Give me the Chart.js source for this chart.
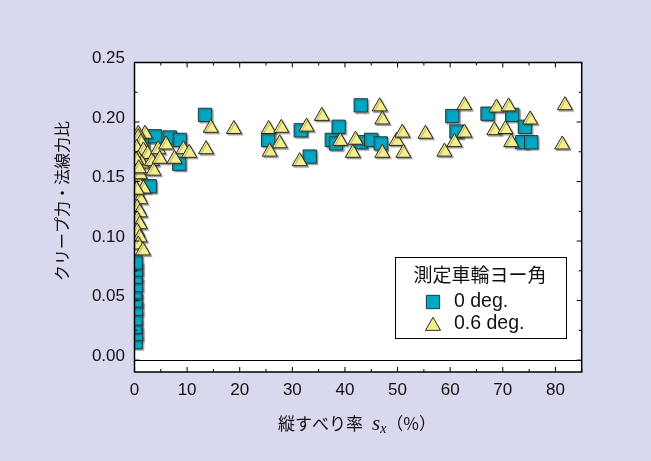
<!DOCTYPE html>
<html><head><meta charset="utf-8">
<script src="https://cdn.jsdelivr.net/npm/chart.js@4.4.0/dist/chart.umd.min.js"></script>
<style>
html,body{margin:0;padding:0;background:#d8d8ee;}
#wrap{width:651px;height:461px;position:relative;}
</style></head><body>
<div id="wrap"><canvas id="c" width="651" height="461"></canvas></div>
<script>
// ---- data ----
const xTicks = [0,10,20,30,40,50,60,70,80];
const yTicks = [0,0.05,0.10,0.15,0.20,0.25];
const seriesNames = ['0 deg.','0.6 deg.'];
const legendTitle = '測定車輪ヨー角';
const yTitle = 'クリープ力・法線力比';
const xTitleMain = '縦すべり率';
const xTitleVar = 's';
const xTitleSub = 'x';
const xTitleUnit = '（%）';

const slip0 = [0.2,0.3,0.1,0.2,0.3,0.2,0.1,0.3,0.2,0.3,0.2,1.0,1.5,2.9,3.9,6.7,8.6,8.5,13.4,25.4,31.6,33.3,37.5,38.3,38.8,43.0,43.0,45.0,46.8,60.4,61.2,67.1,71.8,74.2,73.7,75.4];
const ratio0 = [0.015,0.022,0.028,0.035,0.043,0.050,0.057,0.063,0.070,0.076,0.082,0.176,0.182,0.146,0.188,0.187,0.185,0.165,0.206,0.185,0.193,0.171,0.185,0.182,0.196,0.214,0.183,0.185,0.182,0.205,0.192,0.207,0.206,0.196,0.183,0.183];

const slip06 = [2.0,0.7,0.7,1.2,0.4,1.7,2.5,0.7,1.4,3.3,0.4,3.6,0.3,0.7,1.7,0.7,1.1,0.5,1.0,0.5,1.0,0.5,1.0,0.7,1.6,0.3,1.0,0.4,0.8,
  4.5,4.8,6.0,7.6,9.3,10.4,13.6,14.5,18.9,
  25.5,27.9,27.6,25.7,31.4,32.7,35.6,39.1,41.5,42.0,46.6,47.1,47.1,49.8,50.9,51.1,55.3,58.9,60.8,62.7,62.7,68.4,68.8,70.5,71.1,71.6,75.2,81.3,81.8];
const ratio06 = [0.190,0.190,0.187,0.183,0.178,0.176,0.173,0.169,0.165,0.167,0.158,0.159,0.153,0.149,0.144,0.138,0.135,0.128,0.124,0.118,0.114,0.108,0.103,0.097,0.092,0.168,0.156,0.143,0.161,
  0.177,0.169,0.181,0.169,0.177,0.174,0.177,0.195,0.194,
  0.194,0.195,0.182,0.175,0.167,0.196,0.205,0.184,0.174,0.185,0.213,0.202,0.174,0.184,0.191,0.174,0.190,0.175,0.183,0.191,0.214,0.193,0.212,0.194,0.213,0.183,0.202,0.181,0.214];

// ---- styles ----
const BG = '#d8d8ee';
const SQ_FILL = '#00a8c2', SQ_EDGE = '#163840';
const TR_FILL = '#f4ee8c', TR_EDGE = '#2a2a1a';
const SQ_R = 9.4, TR_R = 8.7;

const decor = {
  id: 'decor',
  beforeDraw(chart) {
    const {ctx, chartArea: a} = chart;
    ctx.save();
    ctx.fillStyle = BG; ctx.fillRect(0, 0, chart.width, chart.height);
    ctx.fillStyle = '#fff'; ctx.fillRect(a.left, a.top, a.right - a.left, a.bottom - a.top);
    ctx.restore();
  },
  beforeDatasetsDraw(chart) {
    const ctx = chart.ctx;
    ctx.save();
    ctx.shadowColor = 'rgba(70,70,70,0.45)';
    ctx.shadowOffsetX = 1.5; ctx.shadowOffsetY = 1.5; ctx.shadowBlur = 1;
  },
  afterDatasetsDraw(chart) { chart.ctx.restore(); },
  afterDraw(chart) {
    const {ctx, chartArea: a, scales: {x, y}} = chart;
    ctx.save();
    // frame
    ctx.strokeStyle = '#000'; ctx.lineWidth = 1.5;
    ctx.strokeRect(a.left, a.top, a.right - a.left, a.bottom - a.top);
    // inward ticks
    ctx.lineWidth = 1;
    for (let v = 0; v <= 85; v += 5) {
      const px = x.getPixelForValue(v);
      const len = (v % 10 === 0) ? 5 : 3;
      ctx.beginPath();
      ctx.moveTo(px, a.bottom); ctx.lineTo(px, a.bottom - len);
      ctx.moveTo(px, a.top); ctx.lineTo(px, a.top + len);
      ctx.stroke();
    }
    for (let k = 0; k <= 10; k++) {
      const v = k * 0.025;
      const py = y.getPixelForValue(v);
      const len = (k % 2 === 0) ? 5 : 3;
      ctx.beginPath();
      ctx.moveTo(a.left, py); ctx.lineTo(a.left + len, py);
      ctx.moveTo(a.right, py); ctx.lineTo(a.right - len, py);
      ctx.stroke();
    }
    // y title
    ctx.fillStyle = '#111';
    ctx.save();
    ctx.translate(62, 201);
    ctx.rotate(-Math.PI / 2);
    ctx.font = '16px "Noto Sans CJK JP"';
    ctx.textAlign = 'center'; ctx.textBaseline = 'middle';
    ctx.fillText(yTitle, 0, 0);
    ctx.restore();
    // x title
    const fMain = '17px "Noto Sans CJK JP"';
    const fVar = 'italic 21px "Liberation Serif"';
    const fSub = 'italic 14px "Liberation Serif"';
    ctx.textBaseline = 'alphabetic'; ctx.textAlign = 'left';
    ctx.font = fMain; const w1 = ctx.measureText(xTitleMain).width;
    const wUnit = ctx.measureText(xTitleUnit).width;
    ctx.font = fVar; const w2 = ctx.measureText(xTitleVar).width;
    ctx.font = fSub; const w3 = ctx.measureText(xTitleSub).width;
    const gap = 9;
    const total = w1 + gap + w2 + w3 + wUnit;
    let cx = 357 - total / 2;
    const by = 430;
    ctx.font = fMain; ctx.fillText(xTitleMain, cx, by); cx += w1 + gap;
    ctx.font = fVar; ctx.fillText(xTitleVar, cx, by); cx += w2;
    ctx.font = fSub; ctx.fillText(xTitleSub, cx, by + 3); cx += w3;
    ctx.font = fMain; ctx.fillText(xTitleUnit, cx, by);
    // legend
    const L = {x: 395, y: 257, w: 171, h: 81};
    ctx.fillStyle = '#fff'; ctx.fillRect(L.x, L.y, L.w, L.h);
    ctx.strokeStyle = '#000'; ctx.lineWidth = 1;
    ctx.strokeRect(L.x + 0.5, L.y + 0.5, L.w, L.h);
    ctx.fillStyle = '#111';
    ctx.font = '19px "Noto Sans CJK JP"';
    ctx.textAlign = 'center'; ctx.textBaseline = 'middle';
    ctx.fillText(legendTitle, 480, 275);
    const ds = chart.data.datasets;
    const rows = [302, 324];
    ctx.textAlign = 'left';
    ctx.font = '19.5px "Liberation Sans", Arial, sans-serif';
    ds.forEach((d, i) => {
      ctx.fillStyle = d.backgroundColor; ctx.strokeStyle = d.borderColor; ctx.lineWidth = 1;
      Chart.helpers.drawPoint(ctx, {pointStyle: d.pointStyle, radius: d.pointRadius, rotation: 0, borderWidth: 1}, 433, rows[i] + (d.pointStyle === 'triangle' ? 2 : 0));
      ctx.fillStyle = '#111';
      ctx.fillText(d.label, 454, rows[i]);
    });
    ctx.restore();
  }
};

const toPts = (xs, ys) => xs.map((v, i) => ({x: v, y: ys[i]}));

new Chart(document.getElementById('c'), {
  type: 'scatter',
  data: {
    datasets: [
      {label: seriesNames[0], data: toPts(slip0, ratio0), pointStyle: 'rect', pointRadius: SQ_R,
       backgroundColor: SQ_FILL, borderColor: SQ_EDGE, borderWidth: 1, order: 1, clip: 0},
      {label: seriesNames[1], data: toPts(slip06, ratio06), pointStyle: 'triangle', pointRadius: TR_R,
       backgroundColor: TR_FILL, borderColor: TR_EDGE, borderWidth: 1, order: 0, clip: 0}
    ]
  },
  options: {
    responsive: false, animation: false, events: [],
    layout: {padding: {left: 0, top: 62.5, right: 69.3, bottom: 0}},
    plugins: {legend: {display: false}, tooltip: {enabled: false}},
    scales: {
      x: {
        type: 'linear', min: 0, max: 85,
        afterFit(s) { s.height = 89; },
        afterBuildTicks(s) { s.ticks = xTicks.map(v => ({value: v})); },
        grid: {display: false, drawTicks: false},
        border: {display: false},
        ticks: {padding: 8, color: '#111', font: {family: '"Liberation Sans", Arial, sans-serif', size: 17},
                maxRotation: 0, autoSkip: false}
      },
      y: {
        type: 'linear', min: -0.01, max: 0.25,
        afterFit(s) { s.width = 134.5; },
        afterBuildTicks(s) { s.ticks = yTicks.map(v => ({value: v})); },
        grid: {display: true, drawTicks: false, lineWidth: 1,
               color: c => (c.tick && c.tick.value === 0) ? '#000' : 'rgba(0,0,0,0)'},
        border: {display: false},
        ticks: {padding: 9.5, labelOffset: -4, color: '#111',
                font: {family: '"Liberation Sans", Arial, sans-serif', size: 17},
                autoSkip: false, callback: v => v.toFixed(2)}
      }
    }
  },
  plugins: [decor]
});
</script>
</body></html>
